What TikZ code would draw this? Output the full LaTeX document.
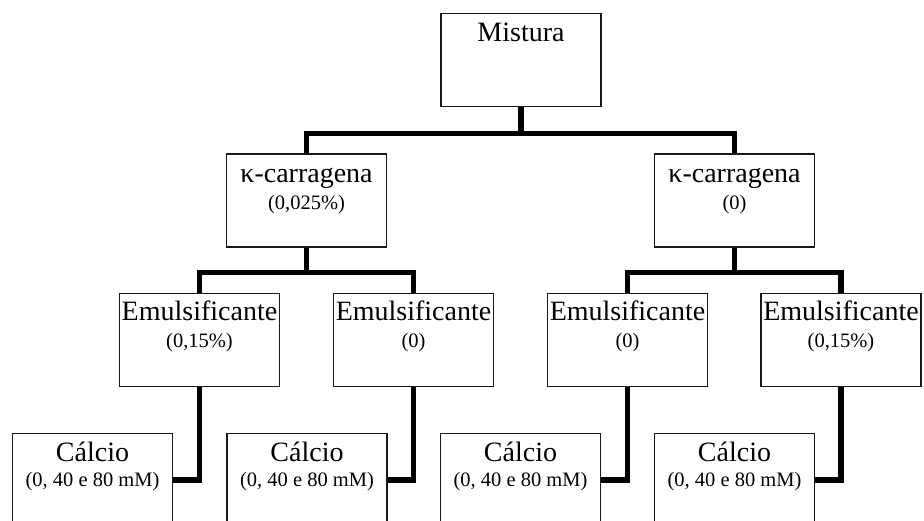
\documentclass[tikz,border=0pt]{standalone}
\usepackage{fontspec}
\setmainfont{Liberation Serif}
\begin{document}
\begin{tikzpicture}[x=1pt,y=-1pt,
  boxnode/.style={draw=black!90,line width=1.2pt,rectangle,minimum width=160pt,minimum height=93pt,inner sep=0pt,fill=white},
  conn/.style={draw=black,line width=5.8pt,line join=miter},
  ttl/.style={anchor=base,inner sep=0pt,font=\fontsize{28}{30}\selectfont},
  sub/.style={anchor=base,inner sep=0pt,font=\fontsize{20.5}{22}\selectfont}]
\useasboundingbox (0,0) rectangle (924,521);
\clip (0,0) rectangle (924,521);
% boxes
\node[boxnode] (m) at (521,60) {};
\node[boxnode] (k1) at (306.5,200.5) {};
\node[boxnode] (k2) at (734.5,200.5) {};
\node[boxnode] (e1) at (199.5,340) {};
\node[boxnode] (e2) at (413.5,340) {};
\node[boxnode] (e3) at (627.5,340) {};
\node[boxnode] (e4) at (841,340) {};
\node[boxnode] (c1) at (92.5,480) {};
\node[boxnode] (c2) at (307,480) {};
\node[boxnode] (c3) at (520.5,480) {};
\node[boxnode] (c4) at (734.5,480) {};
% texts
\node[ttl] (tm) at ([yshift=-28.5pt]m.north) {Mistura};
\node[ttl] (tk1) at ([yshift=-29pt]k1.north) {κ-carragena};
\node[sub] (sk1) at ([yshift=-56pt]k1.north) {(0,025\%)};
\node[ttl] (tk2) at ([yshift=-29pt]k2.north) {κ-carragena};
\node[sub] (sk2) at ([yshift=-56pt]k2.north) {(0)};
\node[ttl] (te1) at ([yshift=-28pt]e1.north) {Emulsificante};
\node[sub] (se1) at ([yshift=-55pt]e1.north) {(0,15\%)};
\node[ttl] (te2) at ([yshift=-28pt]e2.north) {Emulsificante};
\node[sub] (se2) at ([yshift=-55pt]e2.north) {(0)};
\node[ttl] (te3) at ([yshift=-28pt]e3.north) {Emulsificante};
\node[sub] (se3) at ([yshift=-55pt]e3.north) {(0)};
\node[ttl] (te4) at ([yshift=-28pt]e4.north) {Emulsificante};
\node[sub] (se4) at ([yshift=-55pt]e4.north) {(0,15\%)};
\foreach \c in {c1,c2,c3,c4}{
  \node[ttl] at ([yshift=-28.5pt]\c.north) {Cálcio};
  \node[sub] at ([yshift=-54pt]\c.north) {(0, 40 e 80 mM)};
}
% bars
\coordinate (b1) at (521,133.5);
\coordinate (b2) at (306.5,272.5);
\coordinate (b3) at (734.5,272.5);
% connectors
\draw[conn] (m.south) -- (b1);
\draw[conn] (k1.north) |- (b1) -| (k2.north);
\draw[conn] (k1.south) -- (b2);
\draw[conn] (e1.north) |- (b2) -| (e2.north);
\draw[conn] (k2.south) -- (b3);
\draw[conn] (e3.north) |- (b3) -| (e4.north);
\draw[conn] (e1.south) |- (c1.east);
\draw[conn] (e2.south) |- (c2.east);
\draw[conn] (e3.south) |- (c3.east);
\draw[conn] (e4.south) |- (c4.east);
\end{tikzpicture}
\end{document}
